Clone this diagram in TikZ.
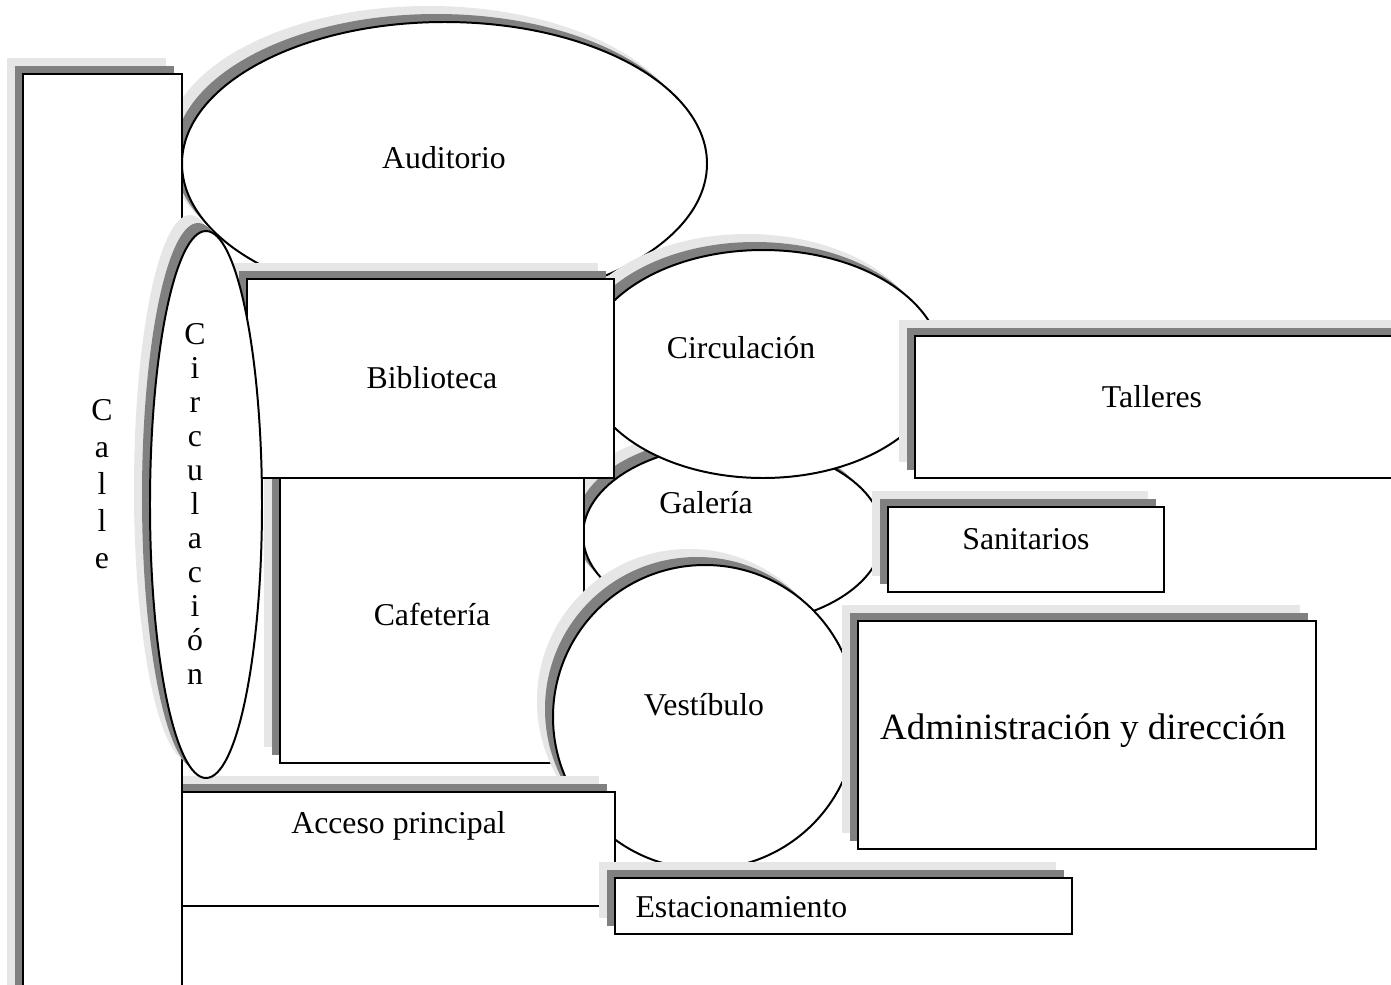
\documentclass[tikz,border=0pt]{standalone}
\usepackage{fontspec}
\setmainfont{Liberation Serif}
\usepackage{tikz}
\definecolor{plLight}{HTML}{E6E6E6}
\definecolor{plDark}{HTML}{808080}

\begin{document}
\begin{tikzpicture}[x=0.01327cm, y=-0.01327cm,
  espacio/.style={draw=black, line width=0.75pt, fill=white,
    preaction={draw=none, fill=plLight, transform canvas={shift={(-16,-16)}}},
    preaction={draw=none, fill=plDark, transform canvas={shift={(-8,-8)}}}},
  rotulo/.style={anchor=base, inner sep=0pt, font=\fontsize{12}{13.8}\selectfont}]
  \clip (0,0) rectangle (1391,984);
  % fondo
  \draw[espacio] (444.5,163.7) ellipse [x radius=262.5, y radius=141.7];
  \node[rotulo] (auditorio) at (444,168) {Auditorio};
  \draw[espacio] (733,535) ellipse [x radius=150, y radius=90];
  \node[rotulo] (galeria) at (706,513) {Galería};
  \draw[espacio] (763,364) ellipse [x radius=179, y radius=114];
  \node[rotulo] (circH) at (741,358) {Circulación};
  \draw[espacio] (280,470) rectangle (584,763);
  \node[rotulo] (cafeteria) at (432,625) {Cafetería};
  \draw[espacio] (247,279) rectangle (614,478);
  \node[rotulo] (biblioteca) at (432,388) {Biblioteca};
  \draw[espacio] (705,717) circle [radius=152];
  \node[rotulo] (vestibulo) at (704,715) {Vestíbulo};
  \draw[espacio] (182,792) rectangle (615,906);
  \node[rotulo] (acceso) at (398.5,833) {Acceso principal};
  % calle y circulacion vertical
  \draw[espacio] (23,74) rectangle (182,1010);
  \foreach \letra [count=\i] in {C,a,l,l,e}
    \node[rotulo] (calle\i) at (102,383+37*\i) {\letra};
  \draw[espacio] (206,504.5) ellipse [x radius=56, y radius=273.5];
  \foreach \letra [count=\i] in {C,i,r,c,u,l,a,c,i,ó,n}
    \node[rotulo] (circV\i) at (195,310+34*\i) {\letra};
  % lado derecho
  \draw[espacio] (915,336) rectangle (1420,478);
  \node[rotulo] (talleres) at (1152,407) {Talleres};
  \draw[espacio] (888,507) rectangle (1164,592);
  \node[rotulo] (sanitarios) at (1026,549) {Sanitarios};
  \draw[espacio] (858,621) rectangle (1316,849);
  \node[rotulo, font=\fontsize{14}{16}\selectfont] (admin) at (1083,739) {Administración y dirección};
  \draw[espacio] (615,878) rectangle (1072,934);
  \node[rotulo, anchor=base west] (estacionamiento) at (635,917) {Estacionamiento};
\end{tikzpicture}
\end{document}
